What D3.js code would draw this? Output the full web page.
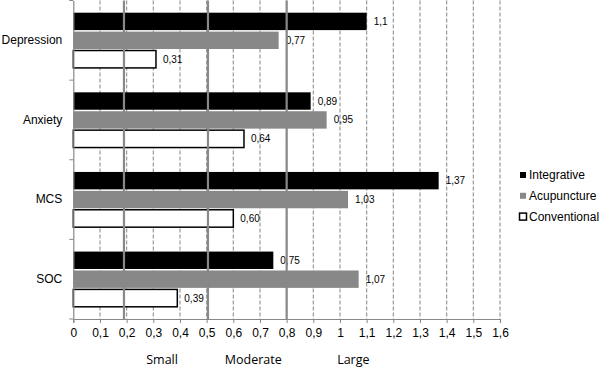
<!DOCTYPE html>
<html>
<head>
<meta charset="utf-8">
<script src="https://cdn.jsdelivr.net/npm/d3@7"></script>
<style>
  body { margin: 0; background: #fff; }
  svg { display: block; font-family: "Liberation Sans", Arial, sans-serif; }
</style>
</head>
<body>
<div id="chart"></div>
<script>
// data
const categories = ["Depression", "Anxiety", "MCS", "SOC"];
const series = ["Integrative", "Acupuncture", "Conventional"];
const integrative = [1.1, 0.89, 1.37, 0.75];
const acupuncture = [0.77, 0.95, 1.03, 1.07];
const conventional = [0.31, 0.64, 0.60, 0.39];
const integrativeLabels = ["1,1", "0,89", "1,37", "0,75"];
const acupunctureLabels = ["0,77", "0,95", "1,03", "1,07"];
const conventionalLabels = ["0,31", "0,64", "0,60", "0,39"];
const xTicks = [0, 0.1, 0.2, 0.3, 0.4, 0.5, 0.6, 0.7, 0.8, 0.9, 1, 1.1, 1.2, 1.3, 1.4, 1.5, 1.6];
const effectLines = [0.19, 0.505, 0.8];
const effectNames = ["Small", "Moderate", "Large"];
const effectNamePos = [0.333, 0.675, 1.05];

const width = 600, height = 367;
const plotLeft = 73.3, plotRight = 500, plotTop = 0.5, plotBottom = 319;

const colors = { Integrative: "#000", Acupuncture: "#888", Conventional: "#fff" };

const values = { Integrative: integrative, Acupuncture: acupuncture, Conventional: conventional };
const labels = { Integrative: integrativeLabels, Acupuncture: acupunctureLabels, Conventional: conventionalLabels };

const rows = [];
categories.forEach((c, i) => {
  series.forEach(s => rows.push({ cat: c, series: s, value: values[s][i], label: labels[s][i] }));
});

const svg = d3.select("#chart").append("svg")
  .attr("width", width)
  .attr("height", height);

const x = d3.scaleLinear().domain([0, 1.6]).range([plotLeft, plotRight]);
const y0 = d3.scaleBand().domain(categories).range([plotTop, plotBottom]);
const y1 = d3.scaleBand().domain(series)
  .range([12.2, y0.bandwidth() - 12.2])
  .paddingInner(0.08);

// dashed grid
svg.selectAll("line.grid")
  .data(xTicks.filter(t => t > 0))
  .enter().append("line")
  .attr("class", "grid")
  .attr("x1", d => x(d)).attr("x2", d => x(d))
  .attr("y1", plotTop).attr("y2", plotBottom)
  .style("stroke", "#999")
  .style("stroke-width", 1.2)
  .style("stroke-dasharray", "4,2");

// bars
const groups = svg.selectAll("g.cat")
  .data(categories)
  .enter().append("g")
  .attr("transform", d => `translate(0,${y0(d)})`);

groups.selectAll("rect")
  .data(c => rows.filter(r => r.cat === c))
  .enter().append("rect")
  .attr("x", x(0))
  .attr("y", d => y1(d.series))
  .attr("width", d => x(d.value) - x(0))
  .attr("height", y1.bandwidth())
  .attr("fill", d => colors[d.series])
  .attr("stroke", d => d.series === "Conventional" ? "#000" : "none")
  .attr("stroke-width", 1.5);

// effect-size reference lines
svg.selectAll("line.effect")
  .data(effectLines)
  .enter().append("line")
  .attr("x1", d => x(d)).attr("x2", d => x(d))
  .attr("y1", plotTop).attr("y2", plotBottom)
  .style("stroke", "#888")
  .style("stroke-width", 2.2);

// value labels
groups.selectAll("text.val")
  .data(c => rows.filter(r => r.cat === c))
  .enter().append("text")
  .attr("x", d => x(d.value) + 7)
  .attr("y", d => y1(d.series) + y1.bandwidth() / 2)
  .attr("dy", "0.35em")
  .style("font-size", "10px")
  .text(d => d.label);

// axes
const xAxis = svg.append("g")
  .attr("transform", `translate(0,${plotBottom})`)
  .call(d3.axisBottom(x).tickValues(xTicks).tickSize(4).tickPadding(5)
    .tickFormat(d => String(d).replace(".", ",")));
xAxis.select(".domain").attr("stroke", "#888").attr("stroke-width", 1.2);
xAxis.selectAll(".tick line").attr("stroke", "#888");
xAxis.selectAll(".tick text").style("font-size", "12px").style("font-family", "'Liberation Sans', Arial, sans-serif").attr("fill", "#000");

const yAxis = svg.append("g")
  .attr("transform", `translate(${plotLeft},0)`)
  .call(d3.axisLeft(y0).tickSize(0).tickPadding(11));
yAxis.select(".domain").attr("stroke", "#888").attr("stroke-width", 1.2);
yAxis.selectAll(".tick text").style("font-size", "12px").style("font-family", "'Liberation Sans', Arial, sans-serif").attr("fill", "#000");

// category boundary ticks
svg.selectAll("line.ytick")
  .data(categories.concat(["end"]))
  .enter().append("line")
  .attr("x1", plotLeft - 4).attr("x2", plotLeft)
  .attr("y1", (d, i) => plotTop + i * y0.bandwidth())
  .attr("y2", (d, i) => plotTop + i * y0.bandwidth())
  .style("stroke", "#888");

// effect-size names
svg.selectAll("text.effect")
  .data(effectNames)
  .enter().append("text")
  .attr("x", (d, i) => x(effectNamePos[i]))
  .attr("y", 364)
  .attr("text-anchor", "middle")
  .style("font-family", "'Open Sans', sans-serif")
  .style("font-size", "12.5px")
  .text(d => d);

// legend
const legend = svg.append("g").attr("transform", "translate(519,175)");
const item = legend.selectAll("g")
  .data(series)
  .enter().append("g")
  .attr("transform", (d, i) => `translate(0,${i * 20.8})`);
item.append("rect")
  .attr("x", d => d === "Conventional" ? 0.5 : 1)
  .attr("y", d => d === "Conventional" ? -3.5 : -3)
  .attr("width", d => d === "Conventional" ? 7 : 6)
  .attr("height", d => d === "Conventional" ? 7 : 6)
  .attr("fill", d => colors[d])
  .attr("stroke", d => d === "Conventional" ? "#000" : "none")
  .attr("stroke-width", 1.5);
item.append("text")
  .attr("x", 10)
  .attr("dy", "0.35em")
  .style("font-size", "12px")
  .text(d => d);
</script>
</body>
</html>
